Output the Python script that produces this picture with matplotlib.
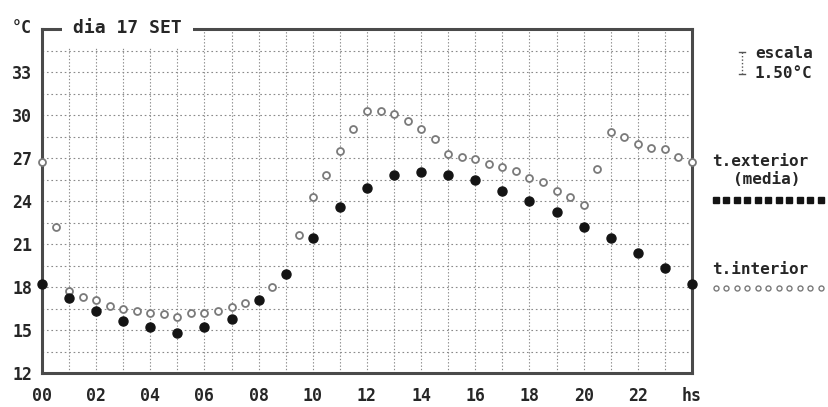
import numpy as np
import matplotlib
matplotlib.use("Agg")
import matplotlib.pyplot as plt
from matplotlib.lines import Line2D

# hourly outside temperature (filled marks) and half-hourly inside temperature (open marks)
hours_ext = np.arange(0, 25)
t_exterior = [18.2, 17.2, 16.3, 15.6, 15.2, 14.8, 15.2, 15.8, 17.1, 18.9,
              21.4, 23.6, 24.9, 25.8, 26.0, 25.8, 25.5, 24.7, 24.0, 23.2,
              22.2, 21.4, 20.4, 19.3, 18.2]

hours_int = np.arange(0, 24.5, 0.5)
t_interior = [26.7, 22.2, 17.7, 17.3, 17.1, 16.7, 16.5, 16.3, 16.2, 16.1,
              15.9, 16.2, 16.2, 16.3, 16.6, 16.9, np.nan, 18.0, np.nan, 21.6,
              24.3, 25.8, 27.5, 29.0, 30.3, 30.3, 30.1, 29.6, 29.0, 28.3,
              27.3, 27.1, 26.9, 26.6, 26.4, 26.1, 25.6, 25.3, 24.7, 24.3,
              23.7, 26.2, 28.8, 28.5, 28.0, 27.7, 27.6, 27.1, 26.7]

y_ticks = [12, 15, 18, 21, 24, 27, 30, 33]
x_ticks = [0, 2, 4, 6, 8, 10, 12, 14, 16, 18, 20, 22, 24]
x_labels = ["00", "02", "04", "06", "08", "10", "12", "14", "16", "18", "20", "22", "hs"]

W, H = 829, 407
plt.rcParams["font.family"] = ["DejaVu Sans Mono"]
plt.rcParams["font.weight"] = "bold"
ink = "#262626"

fig = plt.figure(figsize=(W / 100, H / 100), dpi=100)
ax = fig.add_axes([42 / W, 1 - 373 / H, (692 - 42) / W, (373 - 29) / H])

ax.set_xlim(0, 24)
ax.set_ylim(12, 36)

# dotted DOS-style grid: every hour, every 1.5 degrees
for h in range(1, 24):
    ax.axvline(h, color="#8a8a8a", lw=0.8, ls=(0, (1.2, 1.8)), zorder=1)
for t in np.arange(13.5, 36, 1.5):
    ax.axhline(t, color="#8a8a8a", lw=0.8, ls=(0, (1.5, 2.5)), zorder=1)

ax.plot(hours_int, t_interior, ls="none", marker="o", ms=5, mfc="white",
        mec="#7a7a7a", mew=1.3, zorder=3, clip_on=False)
ax.plot(hours_ext, t_exterior, ls="none", marker="o", ms=6.5, color="#141414",
        zorder=4, clip_on=False)

ax.set_yticks(y_ticks)
ax.set_yticklabels([str(v) for v in y_ticks])
ax.set_xticks(x_ticks)
ax.set_xticklabels(x_labels)
ax.tick_params(length=0, labelsize=12, colors=ink)
ax.tick_params(axis="y", pad=7)
ax.tick_params(axis="x", pad=10)
for s in ax.spines.values():
    s.set_color("#4a4a4a")
    s.set_linewidth(2.2)

def fx(px):
    return px / W

def fy(py):
    return 1 - py / H

fig.text(fx(22), fy(28), "°C", ha="center", va="center", fontsize=12, color=ink)
fig.text(fx(73), fy(28), "dia 17 SET", ha="left", va="center", fontsize=13,
         color=ink, zorder=10,
         bbox=dict(facecolor="white", edgecolor="none", pad=8))

# scale note
fig.text(fx(755), fy(53), "escala", ha="left", va="center", fontsize=11.5, color=ink)
fig.text(fx(755), fy(73), "1.50°C", ha="left", va="center", fontsize=11.5, color=ink)
fig.add_artist(Line2D([fx(742), fx(742)], [fy(52), fy(74)], color="#555",
                      lw=1, ls=(0, (1, 1.5))))
for py in (52, 74):
    fig.add_artist(Line2D([fx(739), fx(745)], [fy(py), fy(py)], color="#555", lw=1))

# legend
fig.text(fx(712), fy(161), "t.exterior", ha="left", va="center", fontsize=11.5, color=ink)
fig.text(fx(733), fy(180), "(media)", ha="left", va="center", fontsize=11.5, color=ink)
lx = fx(716 + 10.5 * np.arange(11))
fig.add_artist(Line2D(lx, [fy(200)] * len(lx), ls="none", marker="s", ms=4.2,
                      color="#141414"))
fig.text(fx(712), fy(270), "t.interior", ha="left", va="center", fontsize=11.5, color=ink)
fig.add_artist(Line2D(lx, [fy(288)] * len(lx), ls="none", marker="o", ms=3.6,
                      mfc="white", mec="#7a7a7a", mew=1))

fig.savefig("out.png", dpi=100, facecolor="white")
